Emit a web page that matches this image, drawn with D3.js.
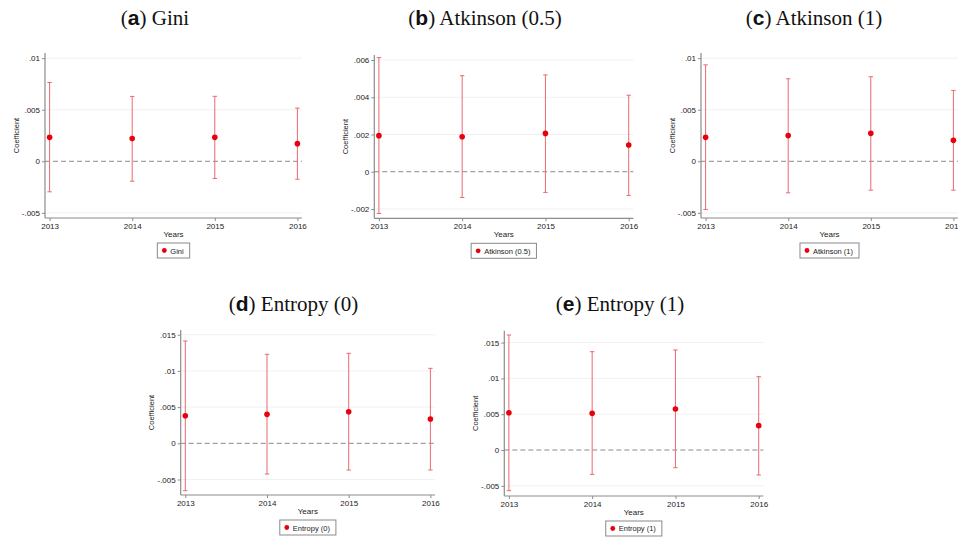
<!DOCTYPE html>
<html>
<head>
<meta charset="utf-8">
<script src="https://cdn.jsdelivr.net/npm/d3@7"></script>
<style>
  body { margin: 0; background: #fff; }
  svg { display: block; }
</style>
</head>
<body>
<svg id="drawing_region"></svg>
<script>
// data
const years = [2013, 2014, 2015, 2016];

const panelKeys = ['a', 'b', 'c', 'd', 'e'];
const panelNames = ['Gini', 'Atkinson (0.5)', 'Atkinson (1)', 'Entropy (0)', 'Entropy (1)'];

const giniCoef  = [0.00232, 0.00220, 0.00232, 0.00171];
const giniLow   = [-0.00296, -0.00193, -0.00167, -0.00174];
const giniHigh  = [0.00764, 0.00629, 0.00630, 0.00516];

const atk05Coef = [0.00194, 0.00188, 0.00206, 0.00144];
const atk05Low  = [-0.00224, -0.00138, -0.00111, -0.00127];
const atk05High = [0.00613, 0.00516, 0.00520, 0.00411];

const atk1Coef  = [0.00232, 0.00249, 0.00271, 0.00203];
const atk1Low   = [-0.00467, -0.00306, -0.00280, -0.00280];
const atk1High  = [0.00935, 0.00800, 0.00820, 0.00687];

const ent0Coef  = [0.00381, 0.00400, 0.00436, 0.00336];
const ent0Low   = [-0.00655, -0.00424, -0.00369, -0.00369];
const ent0High  = [0.01413, 0.01229, 0.01243, 0.01036];

const ent1Coef  = [0.00521, 0.00512, 0.00573, 0.00340];
const ent1Low   = [-0.00568, -0.00340, -0.00247, -0.00349];
const ent1High  = [0.01606, 0.01373, 0.01397, 0.01024];

const ticksA = [-0.005, 0, 0.005, 0.01];
const labelsA = ['-.005', '0', '.005', '.01'];
const ticksB = [-0.002, 0, 0.002, 0.004, 0.006];
const labelsB = ['-.002', '0', '.002', '.004', '.006'];
const ticksD = [-0.005, 0, 0.005, 0.01, 0.015];
const labelsD = ['-.005', '0', '.005', '.01', '.015'];

const yDomains = [
    [-0.0055, 0.0105],
    [-0.0025, 0.00627],
    [-0.0055, 0.0105],
    [-0.00714, 0.01565],
    [-0.00642, 0.01666]
];

const series = [
    { coef: giniCoef, low: giniLow, high: giniHigh, ticks: ticksA, labels: labelsA },
    { coef: atk05Coef, low: atk05Low, high: atk05High, ticks: ticksB, labels: labelsB },
    { coef: atk1Coef, low: atk1Low, high: atk1High, ticks: ticksA, labels: labelsA },
    { coef: ent0Coef, low: ent0Low, high: ent0High, ticks: ticksD, labels: labelsD },
    { coef: ent1Coef, low: ent1Low, high: ent1High, ticks: ticksD, labels: labelsD }
];

// plot area of each panel (pixels), and title centre
const layout = [
    { left: 45,    top: 53,    width: 257,   height: 165,   titleX: 155,   titleY: 25 },
    { left: 374.3, top: 55,    width: 259,   height: 163.3, titleX: 485,   titleY: 25 },
    { left: 701,   top: 53,    width: 257,   height: 165,   titleX: 814,   titleY: 25 },
    { left: 180.7, top: 330,   width: 254.3, height: 165,   titleX: 293.5, titleY: 311 },
    { left: 504.3, top: 330.7, width: 259,   height: 165.3, titleX: 620,   titleY: 311 }
];

const svg = d3.select('#drawing_region')
    .attr('width', 958)
    .attr('height', 537);

const sans = 'Liberation Sans, Arial, sans-serif';
const serif = 'Liberation Serif, Times New Roman, serif';
const barColor = '#ea6a70';
const dotColor = '#e8000e';
const axisColor = '#8c8c8c';

series.forEach((s, i) => {
    const L = layout[i];
    const g = svg.append('g')
        .attr('transform', `translate(${L.left}, ${L.top})`);

    const pad = 4.6;
    const xscale = d3.scaleLinear()
        .domain([2013, 2016])
        .range([pad, L.width - pad]);

    const yscale = d3.scaleLinear()
        .domain(yDomains[i])
        .range([L.height, 0]);

    // grid
    g.selectAll('.grid')
        .data(s.ticks.filter(t => t !== 0))
        .enter()
        .append('line')
        .attr('x1', 0)
        .attr('x2', L.width)
        .attr('y1', d => yscale(d))
        .attr('y2', d => yscale(d))
        .attr('stroke', '#eeeeee')
        .attr('stroke-width', 0.8);

    // zero line
    g.append('line')
        .attr('x1', 0)
        .attr('x2', L.width)
        .attr('y1', yscale(0))
        .attr('y2', yscale(0))
        .attr('stroke', '#8a8a8a')
        .attr('stroke-width', 1)
        .attr('stroke-dasharray', '5,3');

    // axes
    const yaxis = d3.axisLeft(yscale)
        .tickValues(s.ticks)
        .tickFormat((d, k) => s.labels[k])
        .tickSize(3)
        .tickSizeOuter(0)
        .tickPadding(2);

    const xaxis = d3.axisBottom(xscale)
        .tickValues(years)
        .tickFormat(d3.format('d'))
        .tickSize(3)
        .tickSizeOuter(0)
        .tickPadding(2);

    const yg = g.append('g').call(yaxis);
    const xg = g.append('g')
        .attr('transform', `translate(0, ${L.height})`)
        .call(xaxis);

    [yg, xg].forEach(ax => {
        ax.select('.domain').attr('stroke', axisColor).attr('stroke-width', 1.2);
        ax.selectAll('.tick line').attr('stroke', axisColor);
        ax.selectAll('.tick text')
            .attr('fill', '#222')
            .style('font-family', sans)
            .style('font-size', '8px');
    });
    xg.select('.domain').attr('d', `M0,0H${L.width}`);
    yg.select('.domain').attr('d', `M0,0V${L.height}`);

    // error bars
    const rows = years.map((y, k) => ({ year: y, coef: s.coef[k], low: s.low[k], high: s.high[k] }));

    g.selectAll('.bar')
        .data(rows)
        .enter()
        .append('line')
        .attr('x1', d => xscale(d.year))
        .attr('x2', d => xscale(d.year))
        .attr('y1', d => yscale(d.low))
        .attr('y2', d => yscale(d.high))
        .attr('stroke', barColor)
        .attr('stroke-width', 1);

    ['low', 'high'].forEach(key => {
        g.selectAll('.cap-' + key)
            .data(rows)
            .enter()
            .append('line')
            .attr('x1', d => xscale(d.year) - 2.2)
            .attr('x2', d => xscale(d.year) + 2.2)
            .attr('y1', d => yscale(d[key]))
            .attr('y2', d => yscale(d[key]))
            .attr('stroke', barColor)
            .attr('stroke-width', 1);
    });

    g.selectAll('.dot')
        .data(rows)
        .enter()
        .append('circle')
        .attr('cx', d => xscale(d.year))
        .attr('cy', d => yscale(d.coef))
        .attr('r', 2.8)
        .attr('fill', dotColor);

    // axis titles
    g.append('text')
        .attr('transform', `translate(-29, ${L.height / 2}) rotate(-90)`)
        .attr('text-anchor', 'middle')
        .attr('dy', '0.35em')
        .style('font-family', sans)
        .style('font-size', '7.5px')
        .attr('fill', '#222')
        .text('Coefficient');

    g.append('text')
        .attr('x', L.width / 2)
        .attr('y', L.height + 19)
        .attr('text-anchor', 'middle')
        .style('font-family', sans)
        .style('font-size', '8px')
        .attr('fill', '#222')
        .text('Years');

    // legend
    const leg = g.append('g');
    const legText = leg.append('text')
        .attr('y', L.height + 35.5)
        .style('font-family', sans)
        .style('font-size', '7.5px')
        .attr('fill', '#222')
        .text(panelNames[i]);
    const tw = legText.node().getComputedTextLength();
    const bw = tw + 19;
    const bx = L.width / 2 - bw / 2;
    legText.attr('x', bx + 13);
    leg.insert('rect', 'text')
        .attr('x', bx)
        .attr('y', L.height + 25)
        .attr('width', bw)
        .attr('height', 15)
        .attr('fill', '#fff')
        .attr('stroke', '#8a8a8a')
        .attr('stroke-width', 1);
    leg.append('circle')
        .attr('cx', bx + 7)
        .attr('cy', L.height + 32.5)
        .attr('r', 2.4)
        .attr('fill', dotColor);

    // panel title
    const title = svg.append('text')
        .attr('x', L.titleX)
        .attr('y', L.titleY)
        .attr('text-anchor', 'middle')
        .style('font-family', serif)
        .style('font-size', '21px')
        .attr('fill', '#111');
    title.append('tspan').text('(');
    title.append('tspan')
        .style('font-family', sans)
        .style('font-weight', 'bold')
        .text(panelKeys[i]);
    title.append('tspan').text(') ' + panelNames[i]);
});
</script>
</body>
</html>
